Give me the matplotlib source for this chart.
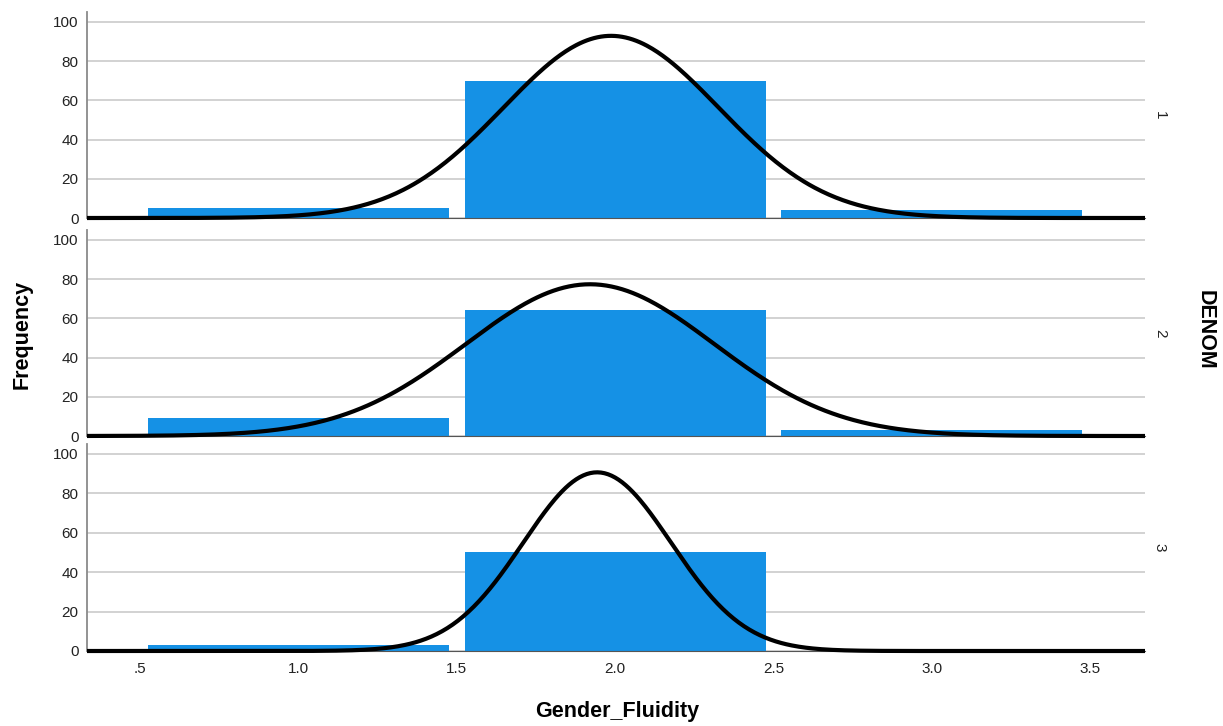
import numpy as np
import matplotlib
matplotlib.use("Agg")
import matplotlib.pyplot as plt
from matplotlib.ticker import FixedLocator, FixedFormatter

plt.rcParams['font.family'] = ['Liberation Sans', 'DejaVu Sans']

# Histogram data: Gender_Fluidity categories and frequencies for each DENOM group
categories = [1, 2, 3]
denom_groups = ["1", "2", "3"]
freq_denom1 = [5, 70, 4]
freq_denom2 = [9, 64, 3]
freq_denom3 = [3, 50, 0]
x_tick_values = [0.5, 1.0, 1.5, 2.0, 2.5, 3.0, 3.5]
x_tick_labels = [".5", "1.0", "1.5", "2.0", "2.5", "3.0", "3.5"]
y_tick_values = [0, 20, 40, 60, 80, 100]

series = [freq_denom1, freq_denom2, freq_denom3]

BAR_COLOR = "#1591E5"
GRID_COLOR = "#cfcfcf"
SPINE_COLOR = "#8a8a8a"
XLIM = (0.333, 3.673)
YLIM = (0, 105)

W, H = 1223, 726
fig = plt.figure(figsize=(W / 100, H / 100), dpi=100)

left_px, right_px = 87, 1145
panels_px = [(12, 218), (230, 436), (444, 651)]


def normal_curve(values, counts, xs, bin_width=1.0):
    v = np.repeat(values, counts).astype(float)
    n = len(v)
    mu = v.mean()
    sd = v.std(ddof=1)
    return n * bin_width * np.exp(-0.5 * ((xs - mu) / sd) ** 2) / (sd * np.sqrt(2 * np.pi))


xs = np.linspace(XLIM[0], XLIM[1], 600)
axes = []
for i, (top, bot) in enumerate(panels_px):
    ax = fig.add_axes([left_px / W, 1 - bot / H, (right_px - left_px) / W, (bot - top) / H])
    axes.append(ax)
    counts = series[i]
    ax.bar(categories, counts, width=0.95, color=BAR_COLOR, zorder=2)
    ax.plot(xs, normal_curve(categories, counts, xs), color="black", lw=3.0,
            zorder=3, clip_on=False, solid_capstyle="butt")
    ax.set_xlim(*XLIM)
    ax.set_ylim(*YLIM)
    ax.yaxis.set_major_locator(FixedLocator(y_tick_values))
    ax.grid(axis="y", color=GRID_COLOR, lw=1.3, zorder=0)
    ax.set_axisbelow(True)
    for s in ("top", "right"):
        ax.spines[s].set_visible(False)
    ax.spines["left"].set_color(SPINE_COLOR)
    ax.spines["left"].set_linewidth(1.3)
    ax.spines["bottom"].set_color("#555555")
    ax.spines["bottom"].set_linewidth(0.8)
    ax.tick_params(axis="both", length=0, labelsize=11, colors="#222222", pad=6)
    ax.xaxis.set_major_locator(FixedLocator(x_tick_values))
    if i < 2:
        ax.tick_params(axis="x", labelbottom=False)
    else:
        ax.xaxis.set_major_formatter(FixedFormatter(x_tick_labels))
        ax.tick_params(axis="x", pad=8)
    ax.text(1.014, 0.5, denom_groups[i], transform=ax.transAxes, rotation=-90,
            ha="center", va="center", fontsize=11, color="#222222")

fig.text(0.018, 0.539, "Frequency", rotation=90, ha="center", va="center",
         fontsize=15.5, fontweight="bold")
fig.text(0.5045, 0.0193, "Gender_Fluidity", ha="center", va="center",
         fontsize=15.5, fontweight="bold")
fig.text(0.985, 0.545, "DENOM", rotation=-90, ha="center", va="center",
         fontsize=15.5, fontweight="bold")

fig.savefig("out.png", dpi=100, facecolor="white")
